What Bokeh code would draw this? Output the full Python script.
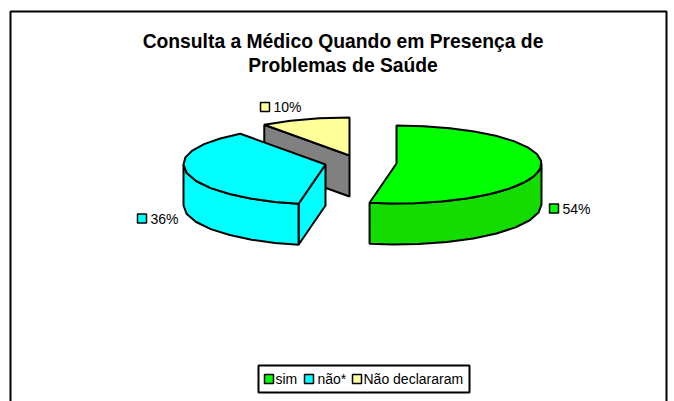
import numpy as np
from bokeh.plotting import figure
from bokeh.models import Range1d
from bokeh.core.properties import value
from bokeh.embed import file_html
from bokeh.resources import INLINE

title_lines = ["Consulta a Médico Quando em Presença de", "Problemas de Saúde"]
categories = ["sim", "não*", "Não declararam"]
shares = [54, 36, 10]
labels = ["54%", "36%", "10%"]
top_colors = ["#00FF00", "#00FFFF", "#FFFF99"]
side_colors = ["#14DC00", "#00FFFF", "#808080"]

apex = [(396, 163), (325, 164), (349, 155)]
RX, RY_BACK, RY_FRONT, DEPTH, STEP = 145, 38, 40, 41, 11

p = figure(width=674, height=401, output_backend="svg", toolbar_location=None,
           x_range=Range1d(0, 674), y_range=Range1d(401, 0), min_border=0)
p.axis.visible = False
p.grid.visible = False
p.outline_line_color = None
p.background_fill_color = "white"
p.border_fill_color = "white"

p.line([10, 10, 666, 666], [401, 11, 11, 401], line_color="black", line_width=2)

def rim(cx, cy, deg):
    """Projected rim point, with the slight perspective of the 3-D pie."""
    deg = np.asarray(deg, dtype=float)
    warped = np.where((deg > 180) & (deg < 270),
                      180 + 90 * (np.clip(deg - 180, 0, 90) / 90) ** 1.15, deg)
    rx = np.where((deg > 180) & (deg <= 324),
                  142 + (RX - 142) * np.clip(deg - 270, 0, 54) / 54, RX)
    t = np.radians(warped)
    c = np.cos(t)
    return cx + rx * np.sin(t), cy - np.where(c < 0, RY_FRONT, RY_BACK) * c

def arc(cx, cy, a0, a1):
    n = max(2, int(round(abs(a1 - a0) / STEP)) + 1)
    return rim(cx, cy, np.linspace(a0, a1, n))

def draw(i, a0, a1, cut_face):
    cx, cy = apex[i]
    if cut_face is not None:
        ex, ey = rim(cx, cy, cut_face)
        ex, ey = float(ex), float(ey)
        p.patch([ex, cx, cx, ex], [ey, cy, cy + DEPTH, ey + DEPTH],
                fill_color=side_colors[i], line_color="black", line_width=2)
    s0, s1 = max(a0, 90), min(a1, 270)
    if s1 > s0:
        ax, ay = arc(cx, cy, s0, s1)
        p.patch(np.r_[ax, ax[::-1]], np.r_[ay, ay[::-1] + DEPTH],
                fill_color=side_colors[i], line_color="black", line_width=2)
    ax, ay = arc(cx, cy, a0, a1)
    p.patch(np.r_[cx, ax], np.r_[cy, ay], fill_color=top_colors[i],
            line_color="black", line_width=2)

edges = np.r_[0, np.cumsum(shares)] * 3.6
draw(2, edges[2], edges[3], edges[2])
draw(1, edges[1], edges[2], edges[1])
draw(0, edges[0], edges[1], None)

font = value("Liberation Sans")
p.text([342.5, 342.5], [41, 64.5], text=title_lines, text_font=font, text_font_size="19.3px",
       text_font_style="bold", text_align="center", text_baseline="alphabetic", text_color="black")

lab_x = [549, 137, 260]
lab_y = [208, 218, 106.5]
p.rect([x + 4.5 for x in lab_x], lab_y, width=9, height=9, fill_color=top_colors,
       line_color="black", line_width=1.5)
p.text([x + 13 for x in lab_x], lab_y, text=labels, text_font=font,
       text_font_size="14px", text_align="left", text_baseline="alphabetic", text_color="black")

p.quad(left=[258], right=[469], top=[365], bottom=[392], fill_color="white",
       line_color="black", line_width=2)
leg_x = [264, 304, 352]
txt_x = [275, 317, 363]
p.rect([x + 4.5 for x in leg_x], [378.5] * 3, width=9, height=9, fill_color=top_colors,
       line_color="black", line_width=1.5)
p.text(txt_x, [378] * 3, text=categories, text_font=font, text_font_size="14px",
       text_align="left", text_baseline="alphabetic", text_color="black")

open("out.html", "w").write(file_html(p, INLINE))
